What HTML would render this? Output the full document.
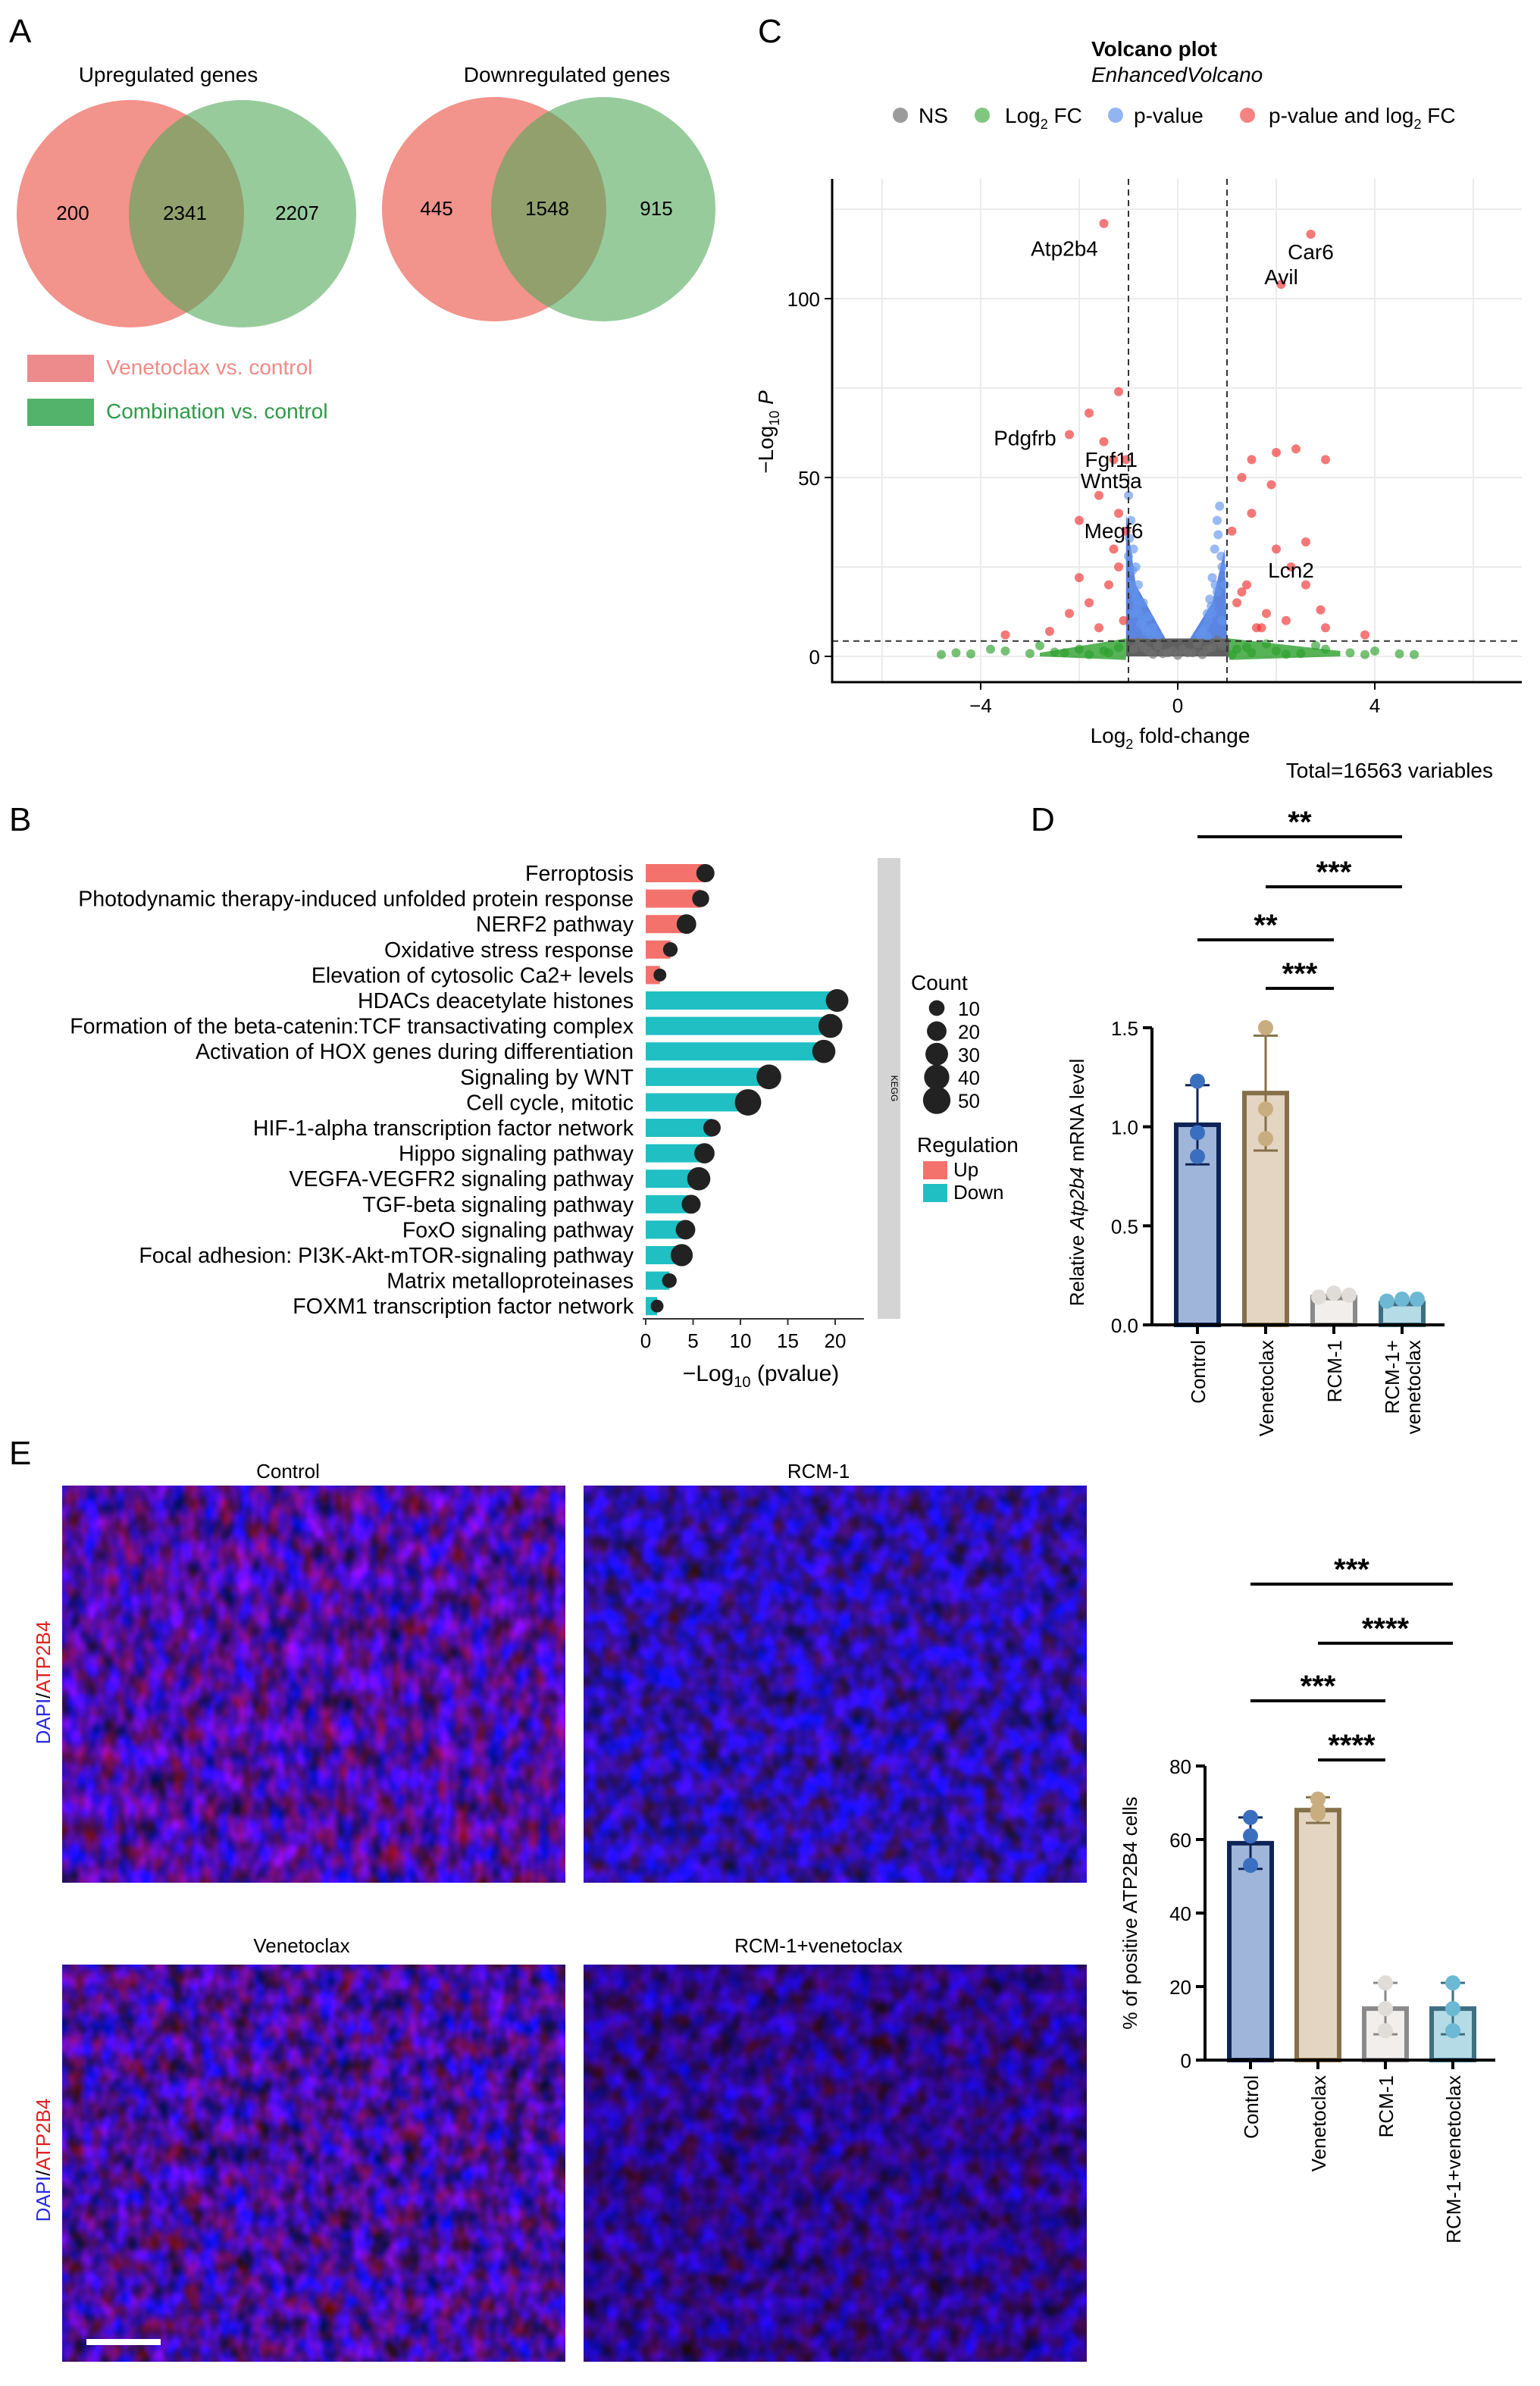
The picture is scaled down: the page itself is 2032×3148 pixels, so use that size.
<!DOCTYPE html>
<html><head><meta charset="utf-8"><style>
html,body{margin:0;padding:0;background:#fff}
svg{display:block;font-family:"Liberation Sans",Arial,sans-serif}
</style></head><body>
<svg id="fig" xmlns="http://www.w3.org/2000/svg" width="2032" height="3148" viewBox="0 0 1016 1574">
<defs>
<filter id="tex1" x="0" y="0" width="100%" height="100%" color-interpolation-filters="sRGB"><feTurbulence type="fractalNoise" baseFrequency="0.09 0.06" numOctaves="2" seed="3"/><feColorMatrix type="matrix" values="0.85 0 0 0 -0.12  0 0 0 0 0.05  0 1.5 0 0 -0.1  0 0 0 0 1"/></filter>
<filter id="tex2" x="0" y="0" width="100%" height="100%" color-interpolation-filters="sRGB"><feTurbulence type="fractalNoise" baseFrequency="0.08 0.07" numOctaves="2" seed="8"/><feColorMatrix type="matrix" values="0.4 0 0 0 -0.02  0 0 0 0 0.06  0 1.6 0 0 -0.12  0 0 0 0 1"/></filter>
<filter id="tex3" x="0" y="0" width="100%" height="100%" color-interpolation-filters="sRGB"><feTurbulence type="fractalNoise" baseFrequency="0.09 0.07" numOctaves="2" seed="5"/><feColorMatrix type="matrix" values="0.75 0 0 0 -0.1  0 0 0 0 0.05  0 1.45 0 0 -0.1  0 0 0 0 1"/></filter>
<filter id="tex4" x="0" y="0" width="100%" height="100%" color-interpolation-filters="sRGB"><feTurbulence type="fractalNoise" baseFrequency="0.08 0.07" numOctaves="2" seed="11"/><feColorMatrix type="matrix" values="0.35 0 0 0 0.0  0 0 0 0 0.03  0 1.3 0 0 -0.1  0 0 0 0 1"/></filter>
</defs>

<!-- Panel A -->
<text x="6" y="28" font-size="22">A</text>
<text x="111" y="54" font-size="14" text-anchor="middle">Upregulated genes</text>
<text x="374" y="54" font-size="14" text-anchor="middle">Downregulated genes</text>
<g>
<circle cx="86" cy="141" r="75" fill="#f08078" opacity="0.85"/>
<circle cx="160" cy="141" r="75" fill="#52a85a" opacity="0.6"/>
<text x="48" y="145" font-size="13" text-anchor="middle">200</text>
<text x="122" y="145" font-size="13" text-anchor="middle">2341</text>
<text x="196" y="145" font-size="13" text-anchor="middle">2207</text>
</g>
<g>
<circle cx="326" cy="138" r="74" fill="#f08078" opacity="0.85"/>
<circle cx="398" cy="138" r="74" fill="#52a85a" opacity="0.6"/>
<text x="288" y="142" font-size="13" text-anchor="middle">445</text>
<text x="361" y="142" font-size="13" text-anchor="middle">1548</text>
<text x="433" y="142" font-size="13" text-anchor="middle">915</text>
</g>
<rect x="18" y="234" width="44" height="18" fill="#ec8a8c"/>
<text x="70" y="247" font-size="14" fill="#f08a88">Venetoclax vs. control</text>
<rect x="18" y="263" width="44" height="18" fill="#54b36a"/>
<text x="70" y="276" font-size="14" fill="#2e9a48">Combination vs. control</text>

<!-- Panel C -->
<text x="500" y="28" font-size="22">C</text>
<text x="720" y="37" font-size="14" font-weight="bold">Volcano plot</text>
<text x="720" y="54" font-size="14" font-style="italic">EnhancedVolcano</text>
<g id="vleg" font-size="14">
<circle cx="594" cy="76" r="5" fill="#707070" opacity="0.7"/><text x="606" y="81">NS</text>
<circle cx="648" cy="76" r="5" fill="#2ca02c" opacity="0.6"/><text x="663" y="81">Log<tspan font-size="9" dy="4">2</tspan><tspan dy="-4"> FC</tspan></text>
<circle cx="736" cy="76" r="5" fill="#6495ed" opacity="0.7"/><text x="748" y="81">p-value</text>
<circle cx="823" cy="76" r="5" fill="#f03030" opacity="0.6"/><text x="837" y="81">p-value and log<tspan font-size="9" dy="4">2</tspan><tspan dy="-4"> FC</tspan></text>
</g>
<g id="volcano"></g>
<text x="772" y="490" font-size="14" text-anchor="middle">Log<tspan font-size="9" dy="4">2</tspan><tspan dy="-4"> fold-change</tspan></text>
<text transform="translate(510,285) rotate(-90)" font-size="14" text-anchor="middle">−Log<tspan font-size="9" dy="4">10</tspan><tspan dy="-4" font-style="italic"> P</tspan></text>
<text x="985" y="513" font-size="14" text-anchor="end">Total=16563 variables</text>

<!-- Panel B -->
<text x="6" y="548" font-size="22">B</text>
<g id="pathway"></g>
<rect x="579" y="566" width="15" height="304" fill="#d4d4d4"/>
<text transform="translate(588,718) rotate(90)" font-size="6" text-anchor="middle">KEGG</text>
<text x="502" y="911" font-size="15" text-anchor="middle">−Log<tspan font-size="10" dy="4">10</tspan><tspan dy="-4"> (pvalue)</tspan></text>
<text x="601" y="653" font-size="14">Count</text>
<g id="countleg"></g>
<text x="605" y="760" font-size="14">Regulation</text>
<rect x="609" y="766" width="16" height="12" fill="#f4726c"/>
<text x="629" y="776" font-size="13">Up</text>
<rect x="609" y="781" width="16" height="12" fill="#1fbfc4"/>
<text x="629" y="791" font-size="13">Down</text>

<!-- Panel D -->
<text x="680" y="548" font-size="22">D</text>
<g id="barD"></g>
<text transform="translate(715,780) rotate(-90)" font-size="13" text-anchor="middle">Relative <tspan font-style="italic">Atp2b4</tspan> mRNA level</text>

<!-- Panel E -->
<text x="6" y="966" font-size="22">E</text>
<text x="190" y="975" font-size="13" text-anchor="middle">Control</text>
<text x="540" y="975" font-size="13" text-anchor="middle">RCM-1</text>
<text x="199" y="1288" font-size="13" text-anchor="middle">Venetoclax</text>
<text x="540" y="1288" font-size="13" text-anchor="middle">RCM-1+venetoclax</text>
<rect x="41" y="980" width="332" height="262" filter="url(#tex1)"/>
<rect x="385" y="980" width="332" height="262" filter="url(#tex2)"/>
<rect x="41" y="1296" width="332" height="262" filter="url(#tex3)"/>
<rect x="385" y="1296" width="332" height="262" filter="url(#tex4)"/>
<line x1="57" y1="1545" x2="106" y2="1545" stroke="#fff" stroke-width="4"/>
<text transform="translate(33,1110) rotate(-90)" font-size="13" text-anchor="middle"><tspan fill="#2a2ae0">DAPI</tspan>/<tspan fill="#e02020">ATP2B4</tspan></text>
<text transform="translate(33,1425) rotate(-90)" font-size="13" text-anchor="middle"><tspan fill="#2a2ae0">DAPI</tspan>/<tspan fill="#e02020">ATP2B4</tspan></text>
<g id="barE"></g>
<text transform="translate(750,1262) rotate(-90)" font-size="13" text-anchor="middle">% of positive ATP2B4 cells</text>
</svg>
<script>
const NS='http://www.w3.org/2000/svg';
function mk(parent,tag,attrs,txt){const e=document.createElementNS(NS,tag);for(const k in attrs)e.setAttribute(k,attrs[k]);if(txt!==undefined)e.textContent=txt;parent.appendChild(e);return e;}

// ---- Volcano data ----
const volX=[-0.9,-0.6,-0.3,0,0.3,0.6,0.9,-0.8,0.8,-0.4,0.4,0.1,-0.1,0.5,-0.5,-0.7,0.7,-0.2,0.2,
-1.05,-1.0,-0.95,-0.9,-0.85,-0.8,-0.7,-0.6,-0.5,-0.4,-0.95,-0.9,-1.0,-0.75,-1.05,-0.85,-0.98,-0.92,-0.88,-0.82,-0.78,-0.72,-0.66,-0.55,0.55,0.6,0.65,0.7,0.75,0.8,0.85,0.7,0.8,0.9,0.45,0.9,-0.65,0.6,0.95,0.88,0.82,0.76,0.68,0.62,0.5,
-1.5,-1.2,-1.3,-1.8,-2.2,-1.5,-1.6,-2,-1.3,-1.2,-1.4,-1.8,-2.2,-1.1,-1.6,-3.5,-2.6,-2,-1.2,1.3,1.5,1.9,2.4,2.0,3,2.7,2.1,1.5,2,2.3,2.6,1.4,1.2,1.8,2.2,3,1.6,3.8,2.6,2.9,1.1,1.3,1.7,
-4.8,-4.5,-4.2,-3.5,-3,-2.5,-2,-1.5,-1.2,-2.8,-3.8,-1.8,1.2,1.5,2,2.5,3,3.5,4,4.5,4.8,1.8,2.8,3.8,1.1,-2.3,-1.4,1.4,2.2];
const volY=[2,1.5,0.8,0.3,1,2,3,4,4.5,3,3.5,2,1.5,0.5,0.6,2.5,2.5,1,1,
55,45,38,30,25,20,15,11,8,6,20,12,28,9,35,16,33,24,18,14,12,10,8,6,8,12,16,22,30,38,42,12,18,25,6,10,7,5.5,20,28,34,20,14,10,7,
121,74,55,68,62,60,45,38,30,25,20,15,12,10,8,6,7,22,40,50,55,48,58,57,55,118,104,40,30,25,20,20,15,12,10,8,8,6,32,13,35,18,8,
0.5,1,0.7,1.5,0.8,1.2,2,1.5,2.5,3,2,0.5,2,1,1.5,0.8,2,1,1.5,0.7,0.5,3.5,3,0.5,0.5,1,1,2.5,0.6];
const volXTicks=[-4,0,4];
const volYTicks=[0,50,100];
const vx=v=>777+v*32.5, vy=v=>433-v*2.36;
const gV=document.getElementById('volcano');
for(const t of [-6,-4,-2,0,2,4,6]){const l=mk(gV,'line',{x1:vx(t),x2:vx(t),y1:118,y2:450,stroke:'#ebebeb','stroke-width':1});}
for(const t of [0,25,50,75,100,125]){const l=mk(gV,'line',{x1:549,x2:1004,y1:vy(t),y2:vy(t),stroke:'#ebebeb','stroke-width':1});}
const core=mk(gV,'path',{d:`M${vx(-1.05)},${vy(5)} L${vx(-1.05)},${vy(0)} L${vx(1.05)},${vy(0)} L${vx(1.05)},${vy(5)} Z`,fill:'#606060'});

const gc=mk(gV,'path',{d:`M${vx(-2.8)},${vy(0)} L${vx(-1.05)},${vy(-1)} L${vx(-1.05)},${vy(5)} L${vx(-2.8)},${vy(1)}Z M${vx(1.05)},${vy(-1)} L${vx(3.3)},${vy(0)} L${vx(3.3)},${vy(1.5)} L${vx(1.05)},${vy(5)}Z`,fill:'#2ca02c',opacity:0.8});

const bc=mk(gV,'path',{d:`M${vx(-1.05)},${vy(5)} L${vx(-1.05)},${vy(40)} L${vx(-0.85)},${vy(20)} L${vx(-0.25)},${vy(5)}Z M${vx(1.0)},${vy(5)} L${vx(0.95)},${vy(30)} L${vx(0.7)},${vy(15)} L${vx(0.25)},${vy(5)}Z`,fill:'#5b85e0'});

for(let i=0;i<volX.length;i++){const x=volX[i],y=volY[i];let col='#707070',nm='ns-point';
 if(Math.abs(x)>1&&y>5){col='#f03030';nm='sig-point';}else if(Math.abs(x)>1){col='#2ca02c';nm='log2fc-point';}else if(y>5){col='#6495ed';nm='pvalue-point';}
 const c=mk(gV,'circle',{cx:vx(x),cy:vy(y),r:3,fill:col,opacity:0.65});
 
 }
for(const t of [-1,1]){const l=mk(gV,'line',{x1:vx(t),x2:vx(t),y1:118,y2:450,stroke:'#333','stroke-dasharray':'4,3','stroke-width':1});}
{const l=mk(gV,'line',{x1:549,x2:1004,y1:vy(4.3),y2:vy(4.3),stroke:'#333','stroke-dasharray':'4,3','stroke-width':1});}
{const a=mk(gV,'path',{d:'M549,118 L549,450 L1004,450',fill:'none',stroke:'#000','stroke-width':1.5});}
volXTicks.forEach(t=>{mk(gV,'line',{x1:vx(t),x2:vx(t),y1:450,y2:455,stroke:'#000'});const tx=mk(gV,'text',{x:vx(t),y:470,'font-size':13,'text-anchor':'middle'},t<0?'−'+(-t):String(t));});
volYTicks.forEach(t=>{mk(gV,'line',{x1:544,x2:549,y1:vy(t),y2:vy(t),stroke:'#000'});const tx=mk(gV,'text',{x:541,y:vy(t)+5,'font-size':13,'text-anchor':'end'},String(t));});
const geneLabels=['Atp2b4','Car6','Avil','Pdgfrb','Fgf11','Wnt5a','Megf6','Lcn2'];
const geneLX=[-2.3,2.7,2.1,-3.1,-1.35,-1.35,-1.3,2.3];
const geneLY=[112,111,104,59,53,47,33,22];
geneLabels.forEach((g,i)=>{const t=mk(gV,'text',{x:vx(geneLX[i]),y:vy(geneLY[i]),'font-size':14,'text-anchor':'middle'},g);});

// ---- Pathway bar chart ----
const pathNames=['Ferroptosis','Photodynamic therapy-induced unfolded protein response','NERF2 pathway','Oxidative stress response','Elevation of cytosolic Ca2+ levels','HDACs deacetylate histones','Formation of the beta-catenin:TCF transactivating complex','Activation of HOX genes during differentiation','Signaling by WNT','Cell cycle, mitotic','HIF-1-alpha transcription factor network','Hippo signaling pathway','VEGFA-VEGFR2 signaling pathway','TGF-beta signaling pathway','FoxO signaling pathway','Focal adhesion: PI3K-Akt-mTOR-signaling pathway','Matrix metalloproteinases','FOXM1 transcription factor network'];
const pathVals=[6.3,5.8,4.3,2.6,1.5,20.2,19.5,18.8,13,10.8,7,6.2,5.6,4.8,4.2,3.8,2.5,1.2];
const pathCounts=[16,13,20,8,5,30,35,32,38,45,14,22,32,18,20,28,8,5];
const pathReg=['Up','Up','Up','Up','Up','Down','Down','Down','Down','Down','Down','Down','Down','Down','Down','Down','Down','Down'];
const pathTicks=[0,5,10,15,20];
const countLegend=[10,20,30,40,50];
const px=v=>426+v*6.25, py=i=>576+i*16.8;
const rad=c=>2+Math.sqrt(c)*1.0;
const gP=document.getElementById('pathway');
pathNames.forEach((n,i)=>{
 const t=mk(gP,'text',{x:418,y:py(i)+5,'font-size':14.3,'text-anchor':'end'},n);
 const b=mk(gP,'rect',{x:px(0),y:py(i)-6,width:px(pathVals[i])-px(0),height:12,fill:pathReg[i]==='Up'?'#f4726c':'#1fbfc4'});
 const d=mk(gP,'circle',{cx:px(pathVals[i]),cy:py(i),r:rad(pathCounts[i]),fill:'#222'});
});
{const a=mk(gP,'line',{x1:424,x2:570,y1:870,y2:870,stroke:'#333'});}
pathTicks.forEach(t=>{mk(gP,'line',{x1:px(t),x2:px(t),y1:870,y2:874,stroke:'#333'});const tx=mk(gP,'text',{x:px(t),y:889,'font-size':13,'text-anchor':'middle'},String(t));});
const gCL=document.getElementById('countleg');
countLegend.forEach((c,i)=>{const y=665+i*15.2;const d=mk(gCL,'circle',{cx:618,cy:y,r:rad(c),fill:'#222'});const t=mk(gCL,'text',{x:632,y:y+5,'font-size':13},String(c));});

// ---- Bar chart helper ----
function barChart(gid,o){
 const g=document.getElementById(gid);
 const sy=v=>o.y0-v*o.k;
 o.values.forEach((v,i)=>{const cx=o.cx0+i*o.dx;
  const r=mk(g,'rect',{x:cx-o.w/2,y:sy(v),width:o.w,height:o.y0-sy(v),fill:o.fills[i],stroke:o.strokes[i],'stroke-width':3});
  const e=mk(g,'path',{d:`M${cx},${sy(v-o.sd[i])} L${cx},${sy(v+o.sd[i])} M${cx-8},${sy(v+o.sd[i])} L${cx+8},${sy(v+o.sd[i])} M${cx-8},${sy(v-o.sd[i])} L${cx+8},${sy(v-o.sd[i])}`,stroke:o.strokes[i],'stroke-width':1.5,fill:'none'});
  o.pts[i].forEach((p,j)=>{const c=mk(g,'circle',{cx:cx+(o.pts[i].length>2&&v<o.small?(j-1)*10:0),cy:sy(p),r:5,fill:o.dots[i]});});
  mk(g,'line',{x1:cx,x2:cx,y1:o.y0,y2:o.y0+6,stroke:'#000','stroke-width':2});
  o.labels[i].forEach((ln,k)=>{const t=mk(g,'text',{transform:`translate(${cx+5+k*14-(o.labels[i].length-1)*7},${o.y0+10}) rotate(-90)`,'font-size':13,'text-anchor':'end'},ln);});
 });
 const ax=mk(g,'path',{d:`M${o.ax},${sy(o.ticks[o.ticks.length-1])} L${o.ax},${o.y0} L${o.cx0+(o.values.length-1)*o.dx+o.w}, ${o.y0}`,fill:'none',stroke:'#000','stroke-width':2});
 o.ticks.forEach((t,i)=>{mk(g,'line',{x1:o.ax-6,x2:o.ax,y1:sy(t),y2:sy(t),stroke:'#000','stroke-width':2});const tx=mk(g,'text',{x:o.ax-9,y:sy(t)+5,'font-size':13,'text-anchor':'end'},o.tickLabels[i]);});
 o.sig.forEach((s,i)=>{const x1=o.cx0+s[0]*o.dx,x2=o.cx0+s[1]*o.dx;const l=mk(g,'line',{x1:x1,x2:x2,y1:o.sigY[i],y2:o.sigY[i],stroke:'#000','stroke-width':2});const t=mk(g,'text',{x:(x1+x2)/2,y:o.sigY[i]-3,'font-size':20,'font-weight':'bold','text-anchor':'middle'},o.sigText[i]);});
}
const dCats=['Control','Venetoclax','RCM-1','RCM-1+venetoclax'];
const dVals=[1.01,1.17,0.14,0.11];
const dSD=[0.2,0.29,0.01,0.01];
const dPts=[[1.23,0.97,0.85],[1.5,1.09,0.94],[0.14,0.16,0.15],[0.12,0.13,0.13]];
const dTicks=[0,0.5,1.0,1.5];
const dTickLabels=['0.0','0.5','1.0','1.5'];
const dSigPairs=[[0,3],[1,3],[0,2],[1,2]];
const dSigText=['**','***','**','***'];
const eVals=[59,68,14,14];
const eSD=[7,3.5,7,7];
const ePts=[[66,61,53],[71,67,68],[21,14,8],[21,14,8]];
const eTicks=[0,20,40,60,80];
const eTickLabels=['0','20','40','60','80'];
const eSigPairs=[[0,3],[1,3],[0,2],[1,2]];
const eSigText=['***','****','***','****'];
const fills=['#9fb6da','#e3d5c1','#f1eeec','#b5dbe6'];
const strokes=['#0e2456','#85704a','#8a8a8a','#3e6f80'];
const dots=['#3a6fc0','#c8ad80','#e0dcd8','#6db9d4'];
barChart('barD',{cats:dCats,labels:[['Control'],['Venetoclax'],['RCM-1'],['RCM-1+','venetoclax']],values:dVals,sd:dSD,pts:dPts,ticks:dTicks,tickLabels:dTickLabels,sig:dSigPairs,sigText:dSigText,sigY:[552,585,620,652],y0:874,k:130.7,cx0:790,dx:45,w:28,ax:760,fills,strokes,dots,small:0.3});
barChart('barE',{cats:['Control-e','Venetoclax-e','RCM-1-e','Combo-e'],labels:[['Control'],['Venetoclax'],['RCM-1'],['RCM-1+venetoclax']],values:eVals,sd:eSD,pts:ePts,ticks:eTicks,tickLabels:eTickLabels,sig:eSigPairs,sigText:eSigText,sigY:[1045,1084,1122,1161],y0:1359,k:2.425,cx0:825,dx:44.5,w:28,ax:795,fills,strokes,dots,small:-1});
</script>
</body></html>
